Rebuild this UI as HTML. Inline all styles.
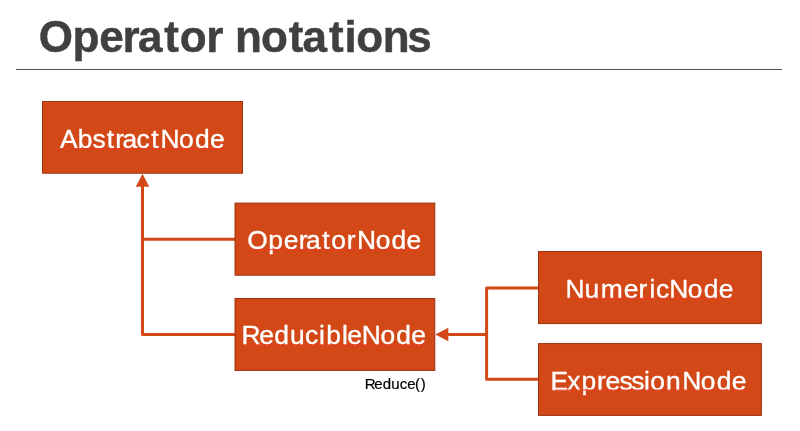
<!DOCTYPE html>
<html lang="en">
<head>
<meta charset="utf-8">
<title>Operator notations</title>
<style>
  html, body { margin: 0; padding: 0; background: #ffffff; }
  body { width: 800px; height: 431px; overflow: hidden; position: relative; font-family: "Liberation Sans", sans-serif; }
  svg { position: absolute; left: 0; top: 0; display: block; will-change: transform; }
  text { font-family: "Liberation Sans", sans-serif; font-kerning: none; font-variant-ligatures: none; }
  .title { font-weight: bold; fill: #404040; stroke: #404040; stroke-width: 0.45; stroke-linejoin: round; }
  .lbl { fill: #ffffff; stroke: #ffffff; stroke-width: 0.35; stroke-linejoin: round; }
  .note { fill: #000000; stroke: #000000; stroke-width: 0.2; stroke-linejoin: round; }
  .box { fill: #D34817; stroke: #9A320E; stroke-width: 1; }
  .wire { fill: none; stroke: #D34817; stroke-width: 3; stroke-linejoin: round; }
  .head { fill: #D34817; stroke: none; }
  .rule { fill: none; stroke: #505050; stroke-width: 1; }
  .sq { fill: none; stroke: #ee3a24; stroke-width: 1; opacity: 0.9; }
</style>
</head>
<body>
<svg width="800" height="431" viewBox="0 0 800 431" role="img" aria-label="Operator notations">
  <rect x="0" y="0" width="800" height="431" fill="#ffffff"/>
  <text id="title" class="title" x="38.86 72.56 99.21 122.5 137.88 164.27 179.86 206.2 220.56 234.93 261.06 288.87 302.48 328.92 344.51 356.16 382.83 407.34" y="51.5" font-size="44.0">Operator notations</text>
  <path class="rule" d="M16 69.5 H782"/>

  <path class="wire" d="M142.5 186 V334.5 H236"/>
  <path class="wire" d="M142.5 239.2 H236"/>
  <path class="wire" d="M447.5 334.5 H486.6"/>
  <path class="wire" d="M539 288 H486.6 V379.3 H539"/>
  <path class="head" d="M142.5 173.7 L149.2 186.8 H135.8 Z"/>
  <path class="head" d="M435.3 334.5 L448.3 327.8 V341.2 Z"/>
  <rect class="box" x="42.5" y="101.5" width="200.0" height="71.7"/>
  <rect class="box" x="235.0" y="203.1" width="199.8" height="72.1"/>
  <rect class="box" x="235.0" y="298.5" width="199.8" height="71.9"/>
  <rect class="box" x="538.5" y="251.5" width="222.9" height="72.1"/>
  <rect class="box" x="538.5" y="343.6" width="222.9" height="71.8"/>
  <text id="l1" class="lbl" x="59.95 77.81 92.46 106.73 115.15 122.4 136.61 151.23 160.41 179.06 194.96 209.93" y="147.5" font-size="26.4">AbstractNode</text>
  <path class="sq" d="M60.0 148.5 H224.7"/>
  <text id="l2" class="lbl" x="247.24 268.36 283.73 298.85 306.1 322.23 331.21 346.75 357.01 375.66 391.56 406.53" y="249.1" font-size="26.4">OperatorNode</text>
  <path class="sq" d="M248.8 249.7 H421.3"/>
  <text id="l3" class="lbl" x="241.57 259.23 274.33 289.98 304.94 319.12 326.36 342.06 347.36 361.81 380.46 396.36 411.33" y="344.3" font-size="26.4">ReducibleNode</text>
  <path class="sq" d="M245.4 345.5 H426.1"/>
  <text id="l4" class="lbl" x="565.59 584.43 600.75 623.63 638.5 649.57 655.94 669.21 687.86 703.76 718.73" y="297.8" font-size="26.4">NumericNode</text>
  <path class="sq" d="M567.1 298.3 H733.5"/>
  <text id="l5" class="lbl" x="550.41 567.14 581.41 597 605.51 619.43 631.18 643.97 650.28 665.89 682.21 700.86 716.76 731.73" y="389.9" font-size="26.4">ExpressionNode</text>
  <path class="sq" d="M555.0 390.0 H746.5"/>
  <text id="n1" class="note" x="364.72 374.32 382.7 391.19 399.78 407.24 415.03 420.67" y="388.8" font-size="15.0">Reduce()</text>
</svg>
</body>
</html>
